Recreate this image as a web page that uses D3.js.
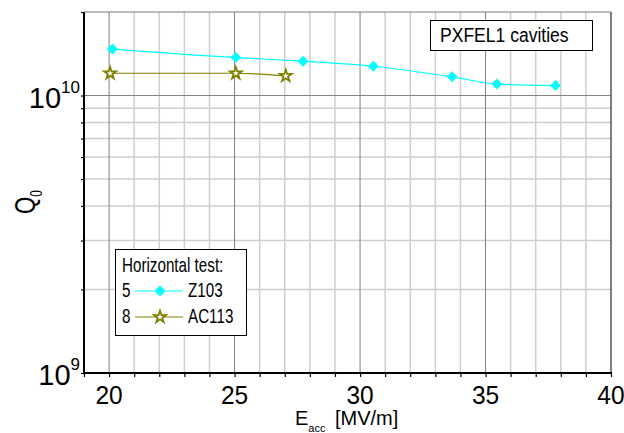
<!DOCTYPE html>
<html>
<head>
<meta charset="utf-8">
<script src="https://cdn.jsdelivr.net/npm/d3@7"></script>
<style>
  body { margin: 0; background: #fff; }
  text { font-family: "Liberation Sans", Arial, sans-serif; fill: #000; }
</style>
</head>
<body>
<script>
"use strict";

const z103E = [20.13, 25.05, 27.73, 30.53, 33.67, 35.45, 37.79];
const z103Q = [1.47e10, 1.37e10, 1.33e10, 1.275e10, 1.168e10, 1.10e10, 1.086e10];
const ac113E = [20.04, 25.05, 27.04];
const ac113Q = [1.203e10, 1.203e10, 1.177e10];

const xTicks = [20, 25, 30, 35, 40];
const yLabelTicks = [{ v: 1e9, exp: "9" }, { v: 1e10, exp: "10" }];

const legendTitle = "Horizontal test:";
const seriesNames = ["Z103", "AC113"];
const seriesNums = ["5", "8"];
const boxLabel = "PXFEL1 cavities";

const cyan = "#00ffff";
const olive = "#808000";

const width = 624, height = 433;
const plot = { left: 84, right: 611, top: 12, bottom: 373 };

const svg = d3.select("body").append("svg")
    .attr("width", width)
    .attr("height", height);

const x = d3.scaleLinear().domain([19, 40]).range([plot.left, plot.right]);
const y = d3.scaleLog().domain([1e9, 2e10]).range([plot.bottom, plot.top]);

// grid lines
const xMinor = d3.range(20, 40);
const yMinor = [2e9, 3e9, 4e9, 5e9, 6e9, 7e9, 8e9, 9e9];

const grid = svg.append("g");
grid.selectAll(".vminor")
    .data(xMinor.filter(d => d % 5 !== 0))
    .enter().append("line")
    .attr("x1", d => x(d)).attr("x2", d => x(d))
    .attr("y1", plot.top).attr("y2", plot.bottom)
    .attr("stroke", "#cfcfcf").attr("stroke-width", 1.5);
grid.selectAll(".hminor")
    .data(yMinor)
    .enter().append("line")
    .attr("x1", plot.left).attr("x2", plot.right)
    .attr("y1", d => y(d)).attr("y2", d => y(d))
    .attr("stroke", "#cfcfcf").attr("stroke-width", 1.5);
grid.selectAll(".vmajor")
    .data([20, 25, 30, 35])
    .enter().append("line")
    .attr("x1", d => x(d)).attr("x2", d => x(d))
    .attr("y1", plot.top).attr("y2", plot.bottom)
    .attr("stroke", "#808080").attr("stroke-width", 1);
grid.append("line")
    .attr("x1", plot.left).attr("x2", plot.right)
    .attr("y1", y(1e10)).attr("y2", y(1e10))
    .attr("stroke", "#808080").attr("stroke-width", 1);

// frame top/right
svg.append("line")
    .attr("x1", plot.left).attr("x2", plot.right)
    .attr("y1", plot.top).attr("y2", plot.top)
    .attr("stroke", "#777").attr("stroke-width", 1);
svg.append("line")
    .attr("x1", plot.right).attr("x2", plot.right)
    .attr("y1", plot.top).attr("y2", plot.bottom)
    .attr("stroke", "#555").attr("stroke-width", 1.5);

// axes
const xAxis = d3.axisBottom(x)
    .tickValues(d3.range(19, 41))
    .tickSize(4)
    .tickFormat("");
const gx = svg.append("g")
    .attr("transform", `translate(0,${plot.bottom})`)
    .call(xAxis);
gx.select(".domain").attr("stroke-width", 2).attr("d", `M${plot.left - 1},0H${plot.right + 1}`);
gx.selectAll(".tick line").attr("stroke-width", 1.2);

const yAxis = d3.axisLeft(y)
    .tickValues([1e9].concat(yMinor, [1e10, 2e10]))
    .tickSize(3)
    .tickFormat("");
const gy = svg.append("g")
    .attr("transform", `translate(${plot.left},0)`)
    .call(yAxis);
gy.select(".domain").attr("stroke-width", 2).attr("d", `M0,${plot.top}V${plot.bottom + 1}`);
gy.selectAll(".tick line").attr("stroke-width", 1.2);

// tick labels
svg.selectAll(".xlab")
    .data(xTicks)
    .enter().append("text")
    .attr("x", d => x(d))
    .attr("y", 404)
    .attr("text-anchor", "middle")
    .attr("transform", d => `translate(${x(d)},0) scale(1,1.08) translate(${-x(d)},${-404 * 0.08 / 1.08})`)
    .style("font-size", "24.5px")
    .text(d => d);

yLabelTicks.forEach(t => {
    const ty = y(t.v);
    const lab = svg.append("text")
        .attr("x", 80)
        .attr("y", ty + 12)
        .attr("text-anchor", "end");
    lab.append("tspan").style("font-size", "29px").text("10");
    lab.append("tspan").style("font-size", "17px").attr("dy", -15).text(t.exp);
});

// axis titles
const ylab = svg.append("text")
    .attr("transform", "translate(35,214) rotate(-90) scale(0.85,1.15)");
ylab.append("tspan").style("font-size", "26px").text("Q");
ylab.append("tspan").style("font-size", "14px").attr("dy", 6).text("0");

const xlab = svg.append("text").attr("x", 295).attr("y", 425);
xlab.append("tspan").style("font-size", "20px").text("E");
xlab.append("tspan").style("font-size", "11px").attr("dy", 7).text("acc");
xlab.append("tspan").style("font-size", "20px").attr("dy", -7).attr("x", 335).text("[MV/m]");

// series
const line = d3.line()
    .x(d => x(d[0]))
    .y(d => y(d[1]))
    .curve(d3.curveMonotoneX);

const z103 = z103E.map((e, i) => [e, z103Q[i]]);
const ac113 = ac113E.map((e, i) => [e, ac113Q[i]]);

const diamond = d3.symbol().type(d3.symbolSquare).size(60);
const star = d3.symbol().type(d3.symbolStar).size(44);

svg.append("path")
    .attr("d", line(z103))
    .attr("fill", "none").attr("stroke", cyan).attr("stroke-width", 1.2);
svg.append("path")
    .attr("d", line(ac113))
    .attr("fill", "none").attr("stroke", olive).attr("stroke-width", 1.2);

svg.selectAll(".dia")
    .data(z103)
    .enter().append("path")
    .attr("d", diamond)
    .attr("transform", d => `translate(${x(d[0])},${y(d[1])}) rotate(45)`)
    .attr("fill", cyan);

svg.selectAll(".star")
    .data(ac113)
    .enter().append("path")
    .attr("d", star)
    .attr("transform", d => `translate(${x(d[0])},${y(d[1])})`)
    .attr("fill", "#fff").attr("stroke", olive).attr("stroke-width", 1.8);

// info box
svg.append("rect")
    .attr("x", 430.5).attr("y", 20.5)
    .attr("width", 162).attr("height", 30)
    .attr("fill", "#fff").attr("stroke", "#000").attr("stroke-width", 1);
svg.append("text")
    .attr("transform", "translate(440,42) scale(0.9,1.05)")
    .style("font-size", "19.5px")
    .text(boxLabel);

// legend
const lg = svg.append("g");
lg.append("rect")
    .attr("x", 115.5).attr("y", 249.5)
    .attr("width", 131).attr("height", 86)
    .attr("fill", "#fff").attr("stroke", "#000").attr("stroke-width", 1);
lg.append("text")
    .attr("transform", "translate(122,272) scale(0.8,1.1)")
    .style("font-size", "19px")
    .text(legendTitle);

const rowY = [291, 317];
const rowColor = [cyan, olive];
rowY.forEach((ry, i) => {
    lg.append("text")
        .attr("transform", `translate(122,${ry + 6}) scale(0.8,1.1)`)
        .style("font-size", "19px")
        .text(seriesNums[i]);
    lg.append("line")
        .attr("x1", 135).attr("x2", 183)
        .attr("y1", ry).attr("y2", ry)
        .attr("stroke", rowColor[i]).attr("stroke-width", 1.2);
    if (i === 0) {
        lg.append("path").attr("d", diamond)
            .attr("transform", `translate(160,${ry}) rotate(45)`)
            .attr("fill", cyan);
    } else {
        lg.append("path").attr("d", star)
            .attr("transform", `translate(160,${ry})`)
            .attr("fill", "#fff").attr("stroke", olive).attr("stroke-width", 1.8);
    }
    lg.append("text")
        .attr("transform", `translate(188,${ry + 6}) scale(0.8,1.1)`)
        .style("font-size", "19px")
        .text(seriesNames[i]);
});
</script>
</body>
</html>
